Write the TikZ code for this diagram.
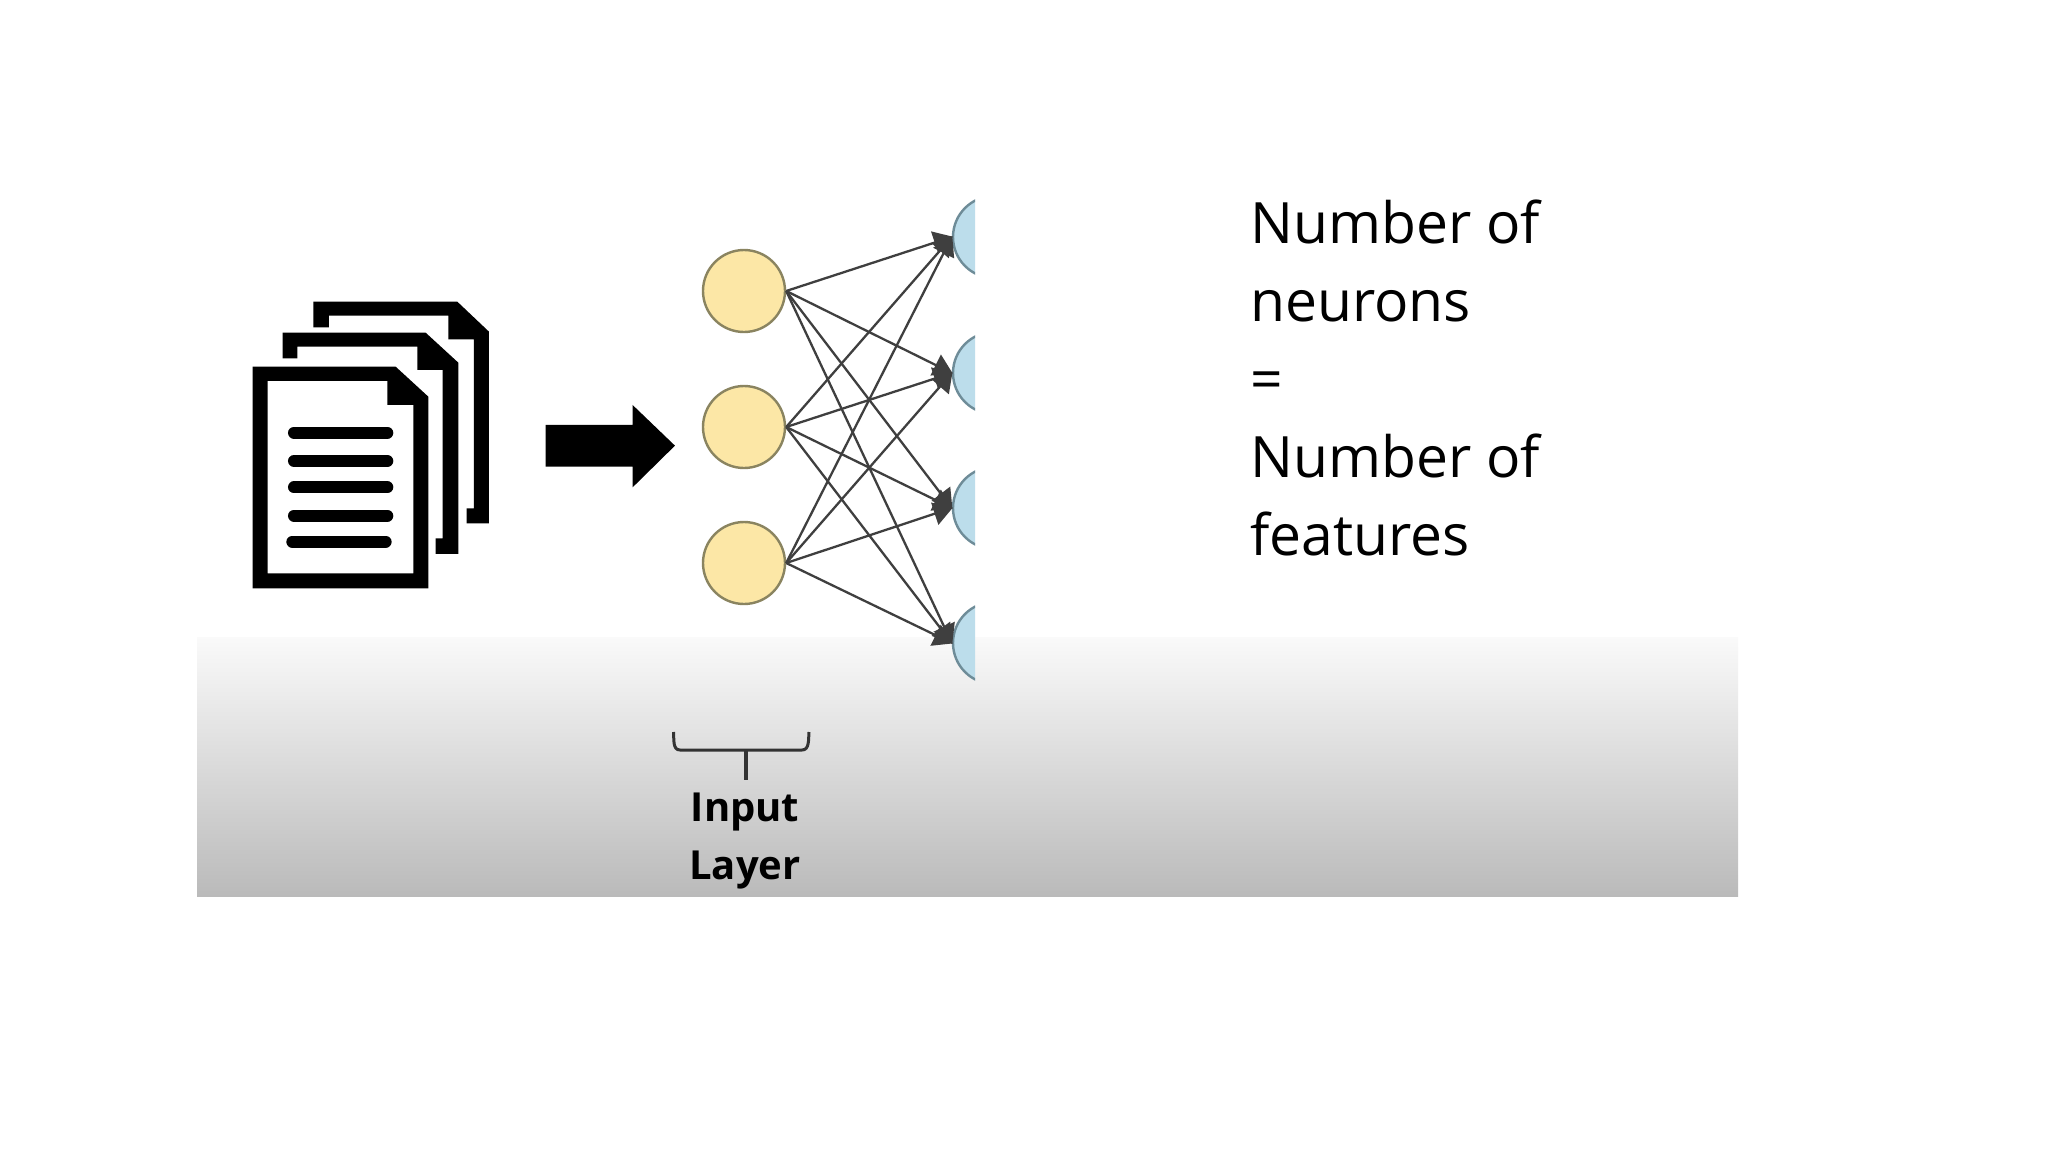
\documentclass[tikz,border=0pt]{standalone}
\usepackage{fontspec}
\setmainfont{Open Sans}
\usetikzlibrary{arrows.meta}
\definecolor{inputfill}{HTML}{FCE7A6}
\definecolor{inputedge}{HTML}{8A8460}
\definecolor{outputfill}{HTML}{BCDDEB}
\definecolor{outputedge}{HTML}{6E8C98}
\definecolor{wire}{HTML}{3F3F3F}
\tikzset{
  inputn/.style={circle,draw=inputedge,fill=inputfill,line width=2.4pt,minimum size=82pt,inner sep=0pt},
  outputn/.style={circle,draw=outputedge,fill=outputfill,line width=2.4pt,minimum size=82pt,inner sep=0pt},
  wirearrow/.style={draw=wire,line width=2.3pt,-{Stealth[length=19pt,width=23pt,inset=0pt]},shorten >=-1pt},
  icon/.style={fill=black,draw=none},
  iconline/.style={line width=12pt,line cap=round,black},
  bracket/.style={draw=black!80,line width=3pt},
  stem/.style={draw=black!80,line width=3.8pt},
  maintext/.style={font=\fontsize{57}{78}\selectfont,align=left,text=black,inner sep=0pt},
  labeltext/.style={font=\fontsize{40}{58}\selectfont\bfseries,align=center,text=black,inner sep=0pt},
}
\begin{document}
\begin{tikzpicture}[x=1pt,y=-1pt]
\useasboundingbox (0,0) rectangle (2048,1152);
\fill[white] (0,0) rectangle (2048,1152);
\shade[top color=black!2!white,bottom color=black!27!white,shading angle=0] (197,637) rectangle (1738,896);
% documents
\begin{scope}[shift={(230,280)},x=0.3333pt,y=-0.3333pt]
\fill[icon] (250,65)--(682,65)--(777,155)--(777,730)--(710,730)--(710,685)--(732,685)--(732,178)--(655,178)--(655,107)--(297,107)--(297,142)--(250,142)--cycle;
\fill[icon] (158,158)--(587,158)--(685,248)--(685,822)--(617,822)--(617,775)--(638,775)--(638,270)--(562,270)--(562,200)--(202,200)--(202,235)--(158,235)--cycle;
\fill[icon,even odd rule] (68,260)--(497,260)--(595,350)--(595,925)--(68,925)--cycle
  (113,303)--(113,880)--(550,880)--(550,375)--(472,375)--(472,303)--cycle;
\draw[iconline] (192,458)--(472,458);
\draw[iconline] (192,543)--(472,543);
\draw[iconline] (192,622)--(472,622);
\draw[iconline] (192,707)--(472,707);
\draw[iconline] (187,785)--(467,785);
\fill[icon] (947,435)--(1208,435)--(1208,375)--(1335,497)--(1208,622)--(1208,560)--(947,560)--cycle;
\end{scope}
% network
\begin{scope}
\clip (900,150) rectangle (975,720);
\node[outputn] (o1) at (994,237) {};
\node[outputn] (o2) at (994,373) {};
\node[outputn] (o3) at (994,508) {};
\node[outputn] (o4) at (994,643) {};
\end{scope}
\node[inputn] (i1) at (744,291) {};
\node[inputn] (i2) at (744,427) {};
\node[inputn] (i3) at (744,563) {};
\foreach \a in {1,2,3}{\foreach \b in {1,2,3,4}{\draw[wirearrow] (i\a.east) -- (o\b.west);}}
% brace
\coordinate (bl) at (673.5,732);
\coordinate (br) at (809,732);
\coordinate (bm) at (746,750);
\coordinate (bs) at (746,780);
\draw[bracket] (bl) to[out=-85,in=180] (680,750) -- (802,750) to[out=0,in=-95] (br);
\draw[stem] (bm) -- (bs);
\node[labeltext,anchor=north] (lab) at (745,793) {Input\\Layer};
\node[maintext,anchor=north west] (txt) at (1250,200) {Number of\\neurons\\=\\Number of\\features};
\end{tikzpicture}
\end{document}
